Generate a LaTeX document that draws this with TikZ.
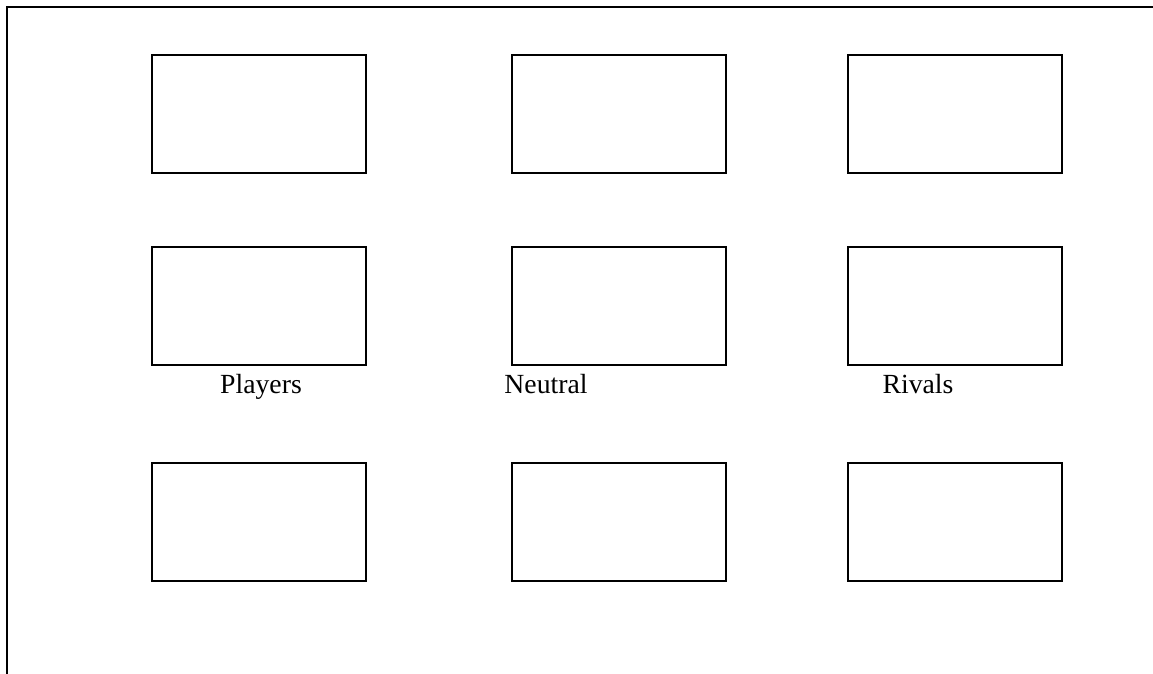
\documentclass[tikz,border=0pt]{standalone}
\usepackage{fontspec}
\setmainfont{Liberation Serif}
\usepackage{tikz}

\tikzset{
	card/.style={draw,line width=2pt,minimum width=214pt,minimum height=118pt,inner sep=0pt},
	side/.style={font=\fontsize{27.7}{33}\selectfont,inner sep=0pt,anchor=base}
}

\begin{document}
\begin{tikzpicture}[x=1pt,y=-1pt]
			\useasboundingbox (0,0) rectangle (1153,674);
			\draw[line width=2pt] (7,674) -- (7,7) -- (1153,7);
			% top row
			\node[card] (p1) at (259,114) {};
			\node[card] (n1) at (619,114) {};
			\node[card] (r1) at (955,114) {};
			% middle row
			\node[card] (p2) at (259,306) {};
			\node[card] (n2) at (619,306) {};
			\node[card] (r2) at (955,306) {};
			% labels
			\node[side] (players) at (261,393) {Players};
			\node[side] (neutral) at (546,393) {Neutral};
			\node[side] (rivals) at (918,393) {Rivals};
			% bottom row
			\node[card] (p3) at (259,522) {};
			\node[card] (n3) at (619,522) {};
			\node[card] (r3) at (955,522) {};
		\end{tikzpicture}
\end{document}
